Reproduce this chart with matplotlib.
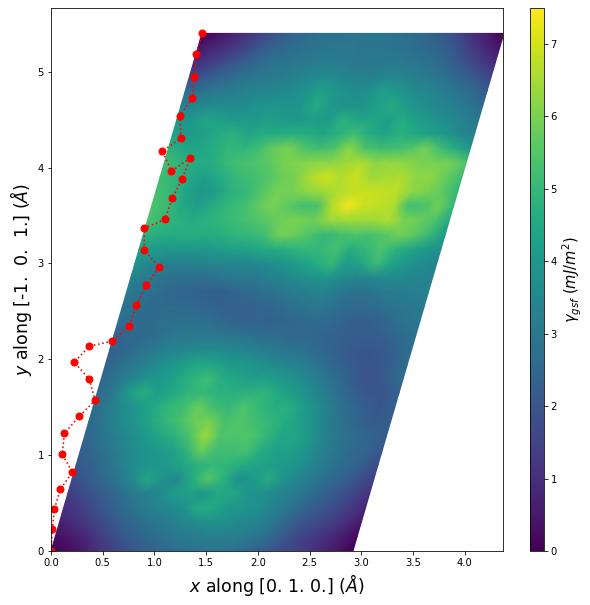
import numpy as np
import matplotlib
matplotlib.use('Agg')
import matplotlib.pyplot as plt

# Stacking fault energy, one row per y value
y_rows = [0.15*i for i in range(37)]
frac_cols = [0.05*i for i in range(21)]  # fraction along the bottom edge

gsf = [
    [0.0, 0.2, 0.5, 1.0, 1.4, 1.8, 2.2, 2.4, 2.6, 2.8, 2.9, 2.9, 2.8, 2.5, 2.2, 1.8, 1.5, 1.2, 0.8, 0.4, 0.0],
    [0.3, 0.5, 0.8, 1.3, 1.8, 2.2, 2.5, 2.8, 3.0, 3.1, 3.2, 3.2, 3.2, 3.0, 2.7, 2.2, 1.6, 1.3, 1.0, 0.6, 0.2],
    [0.7, 1.0, 1.4, 1.8, 2.2, 2.6, 2.9, 3.1, 3.4, 3.6, 3.8, 3.7, 3.5, 3.4, 3.0, 2.5, 2.0, 1.7, 1.4, 1.0, 0.5],
    [1.0, 1.3, 1.7, 2.2, 2.6, 3.0, 3.3, 3.5, 3.8, 4.6, 4.5, 3.9, 3.9, 3.7, 3.3, 2.9, 2.4, 2.0, 1.7, 1.3, 0.8],
    [1.3, 1.7, 2.1, 2.5, 2.9, 3.2, 3.5, 4.1, 4.3, 3.9, 4.5, 4.5, 3.8, 3.7, 3.4, 3.1, 2.7, 2.3, 2.0, 1.6, 1.1],
    [1.7, 2.1, 2.5, 2.9, 3.6, 4.5, 3.7, 3.5, 4.6, 5.5, 4.8, 3.7, 4.0, 4.6, 3.8, 3.4, 3.0, 2.6, 2.3, 1.9, 1.4],
    [2.0, 2.3, 2.8, 3.2, 3.7, 3.9, 4.0, 4.4, 4.8, 5.0, 4.9, 4.6, 4.4, 4.2, 4.0, 3.7, 3.2, 2.8, 2.5, 2.2, 1.7],
    [2.2, 2.6, 3.0, 3.4, 3.8, 4.0, 4.2, 4.8, 5.8, 5.2, 5.2, 5.3, 4.6, 4.3, 4.3, 3.8, 3.3, 2.9, 2.6, 2.4, 2.0],
    [2.4, 2.8, 3.2, 3.6, 4.0, 4.4, 4.8, 5.4, 6.4, 5.4, 5.4, 5.4, 5.0, 4.4, 4.4, 3.9, 3.2, 2.9, 2.6, 2.4, 2.2],
    [2.5, 3.0, 3.5, 3.9, 4.4, 4.9, 5.3, 5.8, 6.0, 5.3, 5.5, 5.2, 5.0, 4.6, 4.2, 3.7, 3.1, 2.7, 2.3, 2.1, 2.2],
    [2.6, 3.1, 3.6, 4.0, 4.5, 5.0, 5.2, 5.8, 5.2, 5.0, 5.4, 5.0, 4.7, 4.7, 4.1, 3.6, 3.0, 2.6, 2.2, 2.0, 2.3],
    [2.6, 3.0, 4.0, 4.7, 4.2, 4.5, 4.9, 5.0, 4.8, 4.8, 4.8, 4.9, 4.5, 4.1, 3.7, 3.2, 2.7, 2.3, 2.0, 2.0, 2.4],
    [2.5, 2.9, 3.4, 3.8, 4.0, 4.4, 4.8, 5.2, 4.6, 4.4, 4.2, 4.2, 4.0, 3.7, 3.3, 2.9, 2.5, 2.0, 1.9, 2.2, 2.7],
    [2.4, 2.7, 3.1, 3.4, 3.8, 4.1, 4.5, 4.4, 4.1, 4.0, 3.8, 3.6, 3.4, 3.2, 2.9, 2.5, 2.2, 2.0, 2.0, 2.3, 2.7],
    [2.3, 2.5, 2.8, 3.1, 3.3, 3.5, 3.6, 3.6, 3.5, 3.4, 3.2, 3.0, 2.9, 2.7, 2.5, 2.3, 2.1, 2.0, 2.1, 2.4, 2.7],
    [2.4, 2.5, 2.6, 2.8, 3.0, 3.0, 3.0, 3.0, 2.9, 2.8, 2.6, 2.6, 2.5, 2.5, 2.4, 2.3, 2.2, 2.2, 2.3, 2.6, 2.9],
    [2.7, 2.6, 2.6, 2.7, 2.8, 2.8, 2.7, 2.5, 2.4, 2.4, 2.3, 2.4, 2.5, 2.6, 2.6, 2.4, 2.2, 2.3, 2.6, 2.9, 3.0],
    [2.9, 2.7, 2.6, 2.6, 2.6, 2.5, 2.4, 2.3, 2.3, 2.4, 2.5, 2.7, 2.9, 3.0, 2.8, 2.6, 2.6, 2.7, 2.9, 3.0, 3.1],
    [3.1, 2.9, 2.7, 2.5, 2.4, 2.3, 2.2, 2.4, 2.5, 2.7, 2.9, 3.1, 3.2, 3.3, 3.0, 2.8, 2.8, 3.0, 3.1, 3.2, 3.3],
    [3.3, 3.1, 2.9, 2.7, 2.7, 2.7, 2.9, 3.0, 3.0, 3.2, 3.4, 3.6, 3.8, 3.9, 3.6, 3.4, 3.5, 3.6, 3.5, 3.4, 3.3],
    [3.8, 3.5, 3.3, 3.2, 3.3, 3.4, 3.4, 3.4, 3.5, 3.7, 3.9, 4.3, 4.6, 5.0, 4.1, 4.4, 5.1, 4.4, 3.9, 3.6, 3.4],
    [4.2, 4.1, 4.0, 4.0, 4.0, 4.1, 4.2, 4.3, 4.5, 4.6, 4.8, 5.0, 5.0, 5.3, 4.6, 5.0, 5.4, 4.8, 4.4, 4.0, 3.7],
    [4.8, 4.7, 4.6, 4.7, 4.6, 4.7, 4.9, 5.0, 5.2, 5.9, 5.8, 5.4, 5.0, 5.2, 5.4, 5.3, 5.5, 5.9, 5.6, 5.0, 4.1],
    [5.4, 5.0, 4.8, 4.6, 4.8, 5.0, 5.2, 5.4, 5.6, 5.9, 6.0, 5.8, 6.3, 6.4, 6.4, 6.4, 6.6, 6.0, 5.8, 5.4, 4.5],
    [5.4, 5.1, 4.5, 4.2, 4.6, 5.0, 5.2, 5.6, 6.0, 5.6, 5.2, 5.3, 6.7, 7.4, 6.9, 6.8, 6.6, 5.2, 5.3, 5.9, 5.0],
    [5.3, 5.0, 4.4, 3.9, 4.2, 4.8, 5.0, 5.5, 5.9, 5.9, 6.2, 6.4, 6.6, 6.8, 6.9, 6.8, 6.7, 6.2, 6.0, 5.6, 5.0],
    [5.2, 4.9, 4.5, 4.2, 4.6, 5.0, 5.2, 5.4, 5.8, 6.0, 6.6, 7.0, 6.6, 6.9, 6.4, 6.5, 6.6, 6.2, 6.2, 5.7, 5.2],
    [5.2, 4.9, 4.6, 4.6, 5.0, 5.3, 5.4, 5.6, 6.0, 6.1, 6.2, 6.2, 6.4, 6.6, 6.2, 6.3, 6.2, 6.0, 6.0, 5.9, 5.4],
    [4.8, 4.4, 4.4, 4.6, 5.0, 4.9, 5.2, 5.8, 6.0, 5.4, 5.2, 5.4, 6.2, 5.4, 5.2, 5.2, 5.4, 5.9, 5.2, 4.6, 3.9],
    [4.3, 4.1, 4.2, 4.6, 4.8, 4.4, 4.6, 4.6, 4.7, 4.6, 4.4, 4.8, 5.2, 4.6, 4.3, 4.8, 4.5, 4.3, 4.0, 3.5, 3.2],
    [3.9, 4.0, 4.4, 4.2, 4.0, 4.0, 4.2, 4.1, 4.0, 4.2, 4.1, 4.8, 4.4, 4.4, 4.2, 4.6, 4.2, 3.9, 3.6, 3.3, 3.0],
    [3.2, 3.4, 3.6, 3.6, 3.6, 3.8, 3.9, 3.8, 3.9, 4.6, 4.0, 3.8, 3.8, 4.2, 4.6, 4.0, 3.7, 3.4, 3.2, 2.9, 2.6],
    [2.6, 2.8, 3.0, 3.1, 3.3, 3.4, 3.5, 3.6, 3.8, 4.3, 3.9, 3.7, 3.7, 4.2, 4.0, 3.6, 3.5, 3.2, 2.9, 2.6, 2.1],
    [1.6, 2.0, 2.4, 2.7, 2.9, 3.0, 3.1, 3.3, 3.5, 3.6, 3.5, 3.3, 3.2, 3.4, 3.4, 3.2, 3.0, 2.8, 2.4, 2.0, 1.5],
    [0.9, 1.3, 1.7, 2.1, 2.5, 2.8, 2.9, 3.0, 3.1, 3.2, 3.1, 3.0, 3.0, 3.1, 3.0, 2.9, 2.7, 2.3, 1.9, 1.4, 0.9],
    [0.4, 0.8, 1.1, 1.5, 2.0, 2.4, 2.6, 2.8, 2.9, 3.0, 3.0, 2.9, 2.9, 2.9, 2.8, 2.6, 2.4, 2.0, 1.4, 0.9, 0.4],
    [0.0, 0.3, 0.7, 1.1, 1.5, 2.0, 2.4, 2.6, 2.8, 2.8, 2.9, 3.0, 2.9, 2.8, 2.6, 2.4, 2.1, 1.6, 1.0, 0.5, 0.0],
]

# Cell edges
a_len = 2.92
b_shift = 1.46
y_top = 5.40

# Minimum energy path
path_x = [0.0, 0.013, 0.032, 0.09, 0.206, 0.11, 0.129, 0.274, 0.428, 0.37, 0.225,
          0.37, 0.593, 0.757, 0.825, 0.922, 1.047, 0.902, 0.902, 1.103, 1.173,
          1.27, 1.347, 1.164, 1.077, 1.26, 1.244, 1.366, 1.386, 1.405, 1.463]
path_y = [0.0, 0.226, 0.435, 0.644, 0.821, 1.009, 1.228, 1.406, 1.573, 1.792, 1.97,
          2.137, 2.189, 2.345, 2.565, 2.773, 2.961, 3.139, 3.368, 3.46, 3.681,
          3.886, 4.099, 3.963, 4.172, 4.308, 4.537, 4.725, 4.95, 5.185, 5.40]

xticks = [0.0, 0.5, 1.0, 1.5, 2.0, 2.5, 3.0, 3.5, 4.0]
yticks = [0, 1, 2, 3, 4, 5]
cticks = [0, 1, 2, 3, 4, 5, 6, 7]

W, H = 590, 605
fig = plt.figure(figsize=(W/72, H/72), dpi=72)
ax = fig.add_axes([51/W, 1 - 551/H, 452.5/W, 543.5/H])
cax = fig.add_axes([530/W, 1 - 551/H, 13.5/W, 543.5/H])

# Skewed grid of the cell
u, v = np.meshgrid(frac_cols, y_rows)
X = a_len*u + b_shift*v/y_top
Y = v

mesh = ax.pcolormesh(X, Y, np.array(gsf), shading='gouraud', cmap='viridis', vmin=0, vmax=7.5)
ax.plot(path_x, path_y, 'o:', color='red', markersize=7, linewidth=1.6)

ax.set_xlim(0, 4.376)
ax.set_ylim(0, 5.67)
ax.set_xticks(xticks)
ax.set_yticks(yticks)
ax.set_xlabel(r'$x$ along [0. 1. 0.] ($\AA$)', fontsize=17.4)
ax.set_ylabel(r'$y$ along [-1.  0.  1.] ($\AA$)', fontsize=17.4)

cb = fig.colorbar(mesh, cax=cax)
cb.set_ticks(cticks)
cb.set_label(r'$\gamma_{gsf}\ (mJ/m^2)$', fontsize=14.6)

fig.savefig('out.png', dpi=72)
